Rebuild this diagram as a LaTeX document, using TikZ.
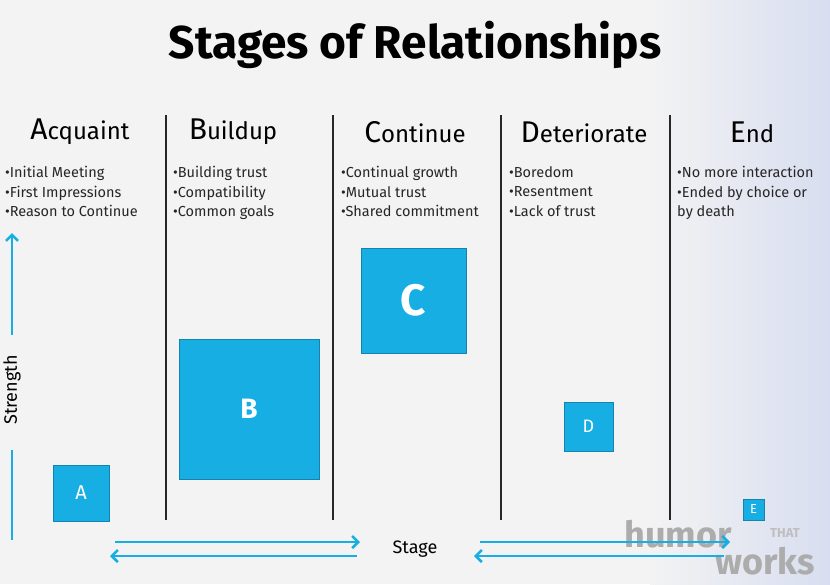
\documentclass[tikz,border=0pt]{standalone}
\usepackage{fontspec}
\setmainfont{Fira Sans}
\usetikzlibrary{arrows.meta}
\definecolor{cy}{HTML}{16AEE3}
\definecolor{cyd}{HTML}{1583B0}
\definecolor{bg}{HTML}{F3F3F3}
\definecolor{bl}{HTML}{D8DEF0}
\newcommand{\hd}[2]{{\fontsize{30}{30}\selectfont #1}{\fontsize{24}{26}\selectfont #2}}
\begin{document}
\begin{tikzpicture}[x=1pt,y=-1pt,
  divider/.style={line width=2pt,black!85},
  head/.style={anchor=center},
  bul/.style={font=\fontsize{14.5}{19.5}\selectfont,anchor=north west,align=left,inner sep=0,text=black!85},
  blk/.style={fill=cy,draw=cyd,line width=0.8pt,text=white},
  wmk/.style={text=gray!65,font=\fontsize{36}{36}\selectfont\bfseries,inner sep=0},
  arr/.style={cy,line width=2.6pt,-{Straight Barb[length=6pt,width=12pt]}}]
\fill[bg] (0,0) rectangle (830,584);
\shade[left color=bg,right color=bl] (650,0) rectangle (830,584);
\useasboundingbox (0,0) rectangle (830,584);
\node[font=\fontsize{46}{50}\selectfont\bfseries] (title) at (415,45) {Stages of Relationships};
\foreach \x/\n in {166/d1,333/d2,501/d3,670/d4}{\draw[divider] (\x,115) -- (\x,520) coordinate (\n);}
\node[head] (h1) at (80,132) {\hd{A}{cquaint}};
\node[head] (h2) at (233,132) {\hd{B}{uildup}};
\node[head] (h3) at (415,132) {\hd{C}{ontinue}};
\node[head] (h4) at (584,132) {\hd{D}{eteriorate}};
\node[head] (h5) at (752,132) {\hd{E}{nd}};
\node[bul] (b1) at (5,166) {•Initial Meeting\\•First Impressions\\•Reason to Continue};
\node[bul] (b2) at (173,166) {•Building trust\\•Compatibility\\•Common goals};
\node[bul] (b3) at (341,166) {•Continual growth\\•Mutual trust\\•Shared commitment};
\node[bul] (b4) at (509,166) {•Boredom\\•Resentment\\•Lack of trust};
\node[bul] (b5) at (677,166) {•No more interaction\\•Ended by choice or\\by death};
\node[blk,minimum size=56pt,font=\fontsize{20}{20}\selectfont] (A) at (81,493) {A};
\node[blk,minimum size=140pt,font=\fontsize{28}{28}\selectfont\bfseries] (B) at (249,409) {B};
\node[blk,minimum size=105pt,font=\fontsize{44}{44}\selectfont\bfseries] (C) at (413.5,300.5) {C};
\node[blk,minimum size=49pt,font=\fontsize{18}{18}\selectfont] (D) at (588.5,426.5) {D};
\node[blk,minimum size=21pt,inner sep=0,font=\fontsize{13}{13}\selectfont] (E) at (753.5,509.5) {E};
% watermark
\node[wmk] (wm1) at (678,534) {humor};
\node[wmk] (wm2) at (765,561) {works};
\node[text=gray!50,font=\fontsize{13}{13}\selectfont\bfseries,inner sep=0] (wm3) at (785,533) {THAT};
% axes
\node[rotate=90,font=\fontsize{18}{18}\selectfont] (strength) at (12,390) {Strength};
\coordinate (s1) at (12,335); \coordinate (s2) at (12,233);
\coordinate (s3) at (12,450); \coordinate (s4) at (12,540);
\draw[arr] (s1) -- (s2);
\draw[cy,line width=2.6pt] (s3) -- (s4);
\node[font=\fontsize{18}{18}\selectfont] (stage) at (415,549) {Stage};
\coordinate (p1) at (115,542); \coordinate (p2) at (360,542);
\coordinate (p3) at (357,556); \coordinate (p4) at (110,556);
\coordinate (p5) at (480,542); \coordinate (p6) at (730,542);
\coordinate (p7) at (724,556); \coordinate (p8) at (474,556);
\draw[arr] (p1) -- (p2); \draw[arr] (p3) -- (p4);
\draw[arr] (p5) -- (p6); \draw[arr] (p7) -- (p8);
\end{tikzpicture}
\end{document}
